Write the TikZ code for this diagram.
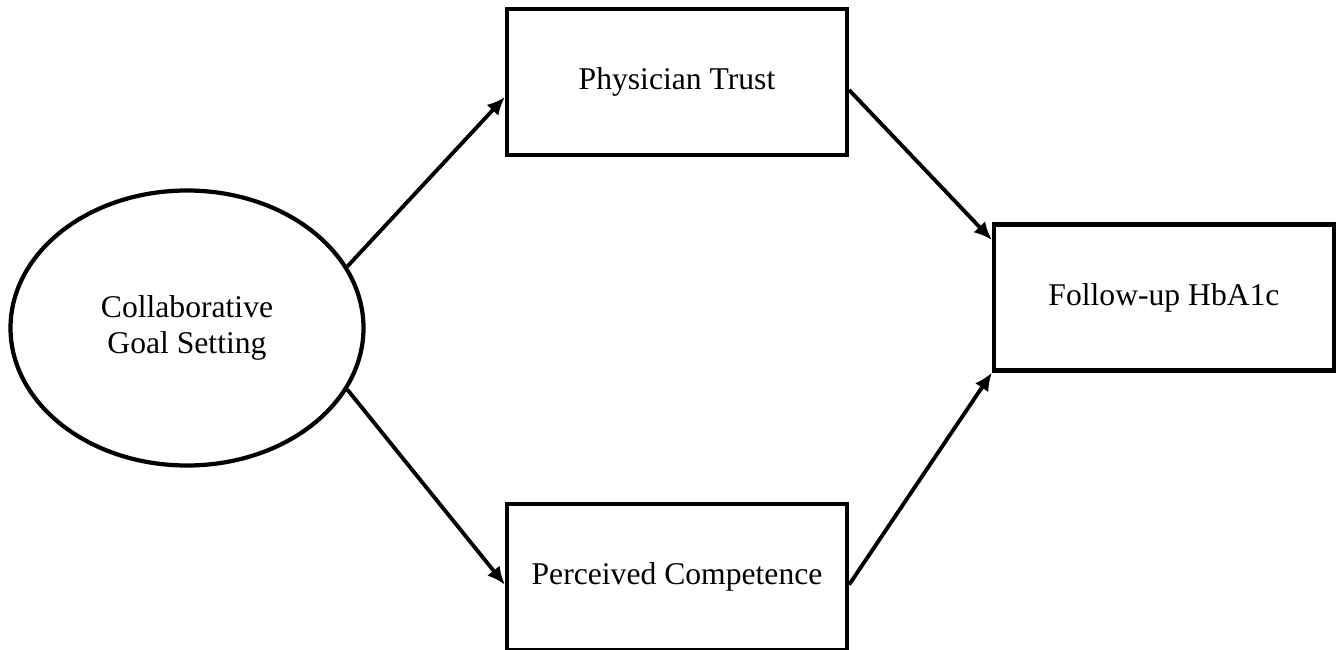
\documentclass[tikz,border=0pt]{standalone}
\usepackage{fontspec}
\setmainfont{Liberation Serif}
\usetikzlibrary{positioning,shapes.geometric,arrows.meta}

\tikzset{
  varbox/.style={draw, line width=2.4pt, minimum width=6.8cm, minimum height=2.92cm,
    inner sep=0pt, font=\fontsize{18}{20}\selectfont},
  latent/.style={draw, ellipse, line width=2.4pt, minimum width=7.06cm, minimum height=5.5cm,
    inner sep=0pt, align=center, font=\fontsize{18}{20}\selectfont},
  path/.style={line width=2.2pt, -{Latex[length=0.36cm, width=0.32cm]}},
}

\begin{document}
\begin{tikzpicture}
  \useasboundingbox (0,0) rectangle (26.84,12.98);

  \node [latent] (goal) at (3.74,6.42) {Collaborative\\Goal Setting};
  \node [varbox] (trust) at (13.54,11.34) {Physician Trust};
  \node [varbox, below=6.9cm of trust] (comp) {Perceived Competence};
  \node [varbox] (hba) at (23.28,7.03) {Follow-up HbA1c};

  \draw [path] (goal.21) -- ([yshift=-0.3cm]trust.west);
  \draw [path] (goal.-21) -- ([yshift=-0.15cm]comp.west);
  \draw [path] ([yshift=-0.16cm]trust.east) -- ([yshift=1.15cm]hba.west);
  \draw [path] ([yshift=-0.15cm]comp.east) -- (hba.south west);
\end{tikzpicture}
\end{document}
